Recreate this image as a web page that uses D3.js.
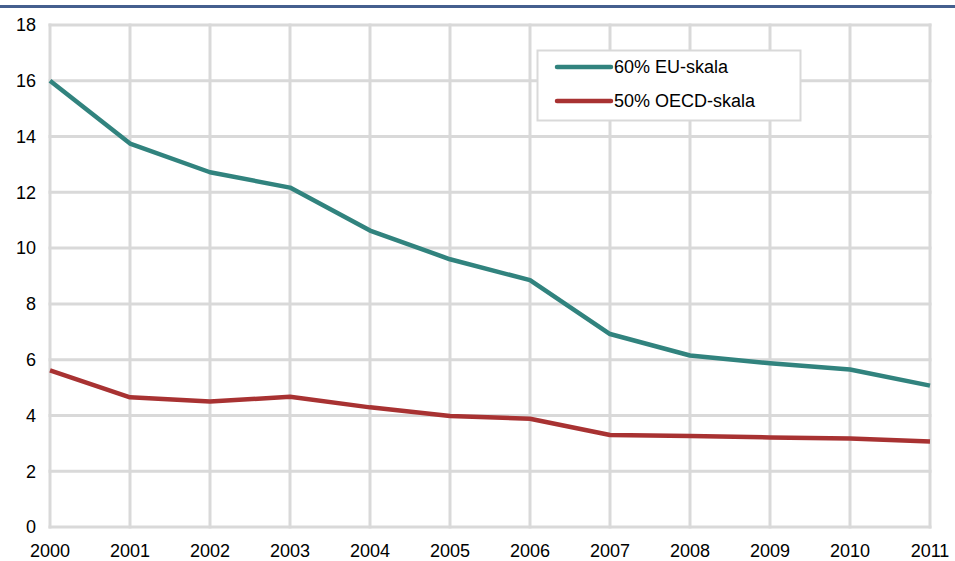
<!DOCTYPE html>
<html>
<head>
<meta charset="utf-8">
<script src="https://cdn.jsdelivr.net/npm/d3@7"></script>
<style>
  body { margin: 0; background: #fff; }
  text { font-family: "Liberation Sans", Arial, sans-serif; fill: #000; }
</style>
</head>
<body>
<svg id="chart" width="955" height="561"></svg>
<script>
const years = [2000, 2001, 2002, 2003, 2004, 2005, 2006, 2007, 2008, 2009, 2010, 2011];
const euSkala = [16.0, 13.75, 12.72, 12.17, 10.63, 9.6, 8.85, 6.92, 6.15, 5.87, 5.65, 5.07];
const oecdSkala = [5.62, 4.65, 4.5, 4.67, 4.29, 3.98, 3.88, 3.3, 3.26, 3.21, 3.17, 3.07];
const yTicks = [0, 2, 4, 6, 8, 10, 12, 14, 16, 18];
const seriesNames = ["60% EU-skala", "50% OECD-skala"];
const seriesColors = ["#31837e", "#a83232"];

const svg = d3.select("#chart");

// top rule (title is clipped above the frame)
svg.append("rect").attr("x", 0).attr("y", 5).attr("width", 955).attr("height", 3).attr("fill", "#455f8e");

const x = d3.scaleLinear().domain([2000, 2011]).range([50, 930]);
const y = d3.scaleLinear().domain([0, 18]).range([527, 25]);

const grid = svg.append("g")
	.attr("stroke", "#d9d9d9")
	.attr("stroke-width", 3)
	.attr("stroke-linecap", "square");

grid.selectAll(".vgrid").data(years).enter().append("line")
	.attr("class", "vgrid")
	.attr("x1", d => x(d)).attr("x2", d => x(d))
	.attr("y1", y(18)).attr("y2", y(0));

grid.selectAll(".hgrid").data(yTicks).enter().append("line")
	.attr("class", "hgrid")
	.attr("x1", x(2000)).attr("x2", x(2011))
	.attr("y1", d => y(d)).attr("y2", d => y(d));

// y labels
svg.selectAll(".ylab").data(yTicks).enter().append("text")
	.attr("class", "ylab")
	.attr("x", 36)
	.attr("y", d => y(d))
	.attr("dy", "0.35em")
	.attr("text-anchor", "end")
	.attr("font-size", 18)
	.text(d => d);

// x labels
svg.selectAll(".xlab").data(years).enter().append("text")
	.attr("class", "xlab")
	.attr("x", d => x(d))
	.attr("y", 557)
	.attr("text-anchor", "middle")
	.attr("font-size", 18)
	.text(d => d);

const line = d3.line()
	.x((d, i) => x(years[i]))
	.y(d => y(d));

[euSkala, oecdSkala].forEach((vals, i) => {
	svg.append("path")
		.datum(vals)
		.attr("d", line)
		.attr("fill", "none")
		.attr("stroke", seriesColors[i])
		.attr("stroke-width", 4.5)
		.attr("stroke-linejoin", "round");
});

// legend
const legend = svg.append("g");
legend.append("rect")
	.attr("x", 537.5).attr("y", 50.5)
	.attr("width", 263).attr("height", 70)
	.attr("fill", "#fff")
	.attr("stroke", "#d9d9d9")
	.attr("stroke-width", 2);

seriesNames.forEach((name, i) => {
	const ly = 67 + i * 34;
	legend.append("line")
		.attr("x1", 557).attr("x2", 611)
		.attr("y1", ly).attr("y2", ly)
		.attr("stroke", seriesColors[i])
		.attr("stroke-width", 4.5)
		.attr("stroke-linecap", "round");
	legend.append("text")
		.attr("x", 614).attr("y", ly)
		.attr("dy", "0.35em")
		.attr("font-size", 18)
		.text(name);
});
</script>
</body>
</html>
